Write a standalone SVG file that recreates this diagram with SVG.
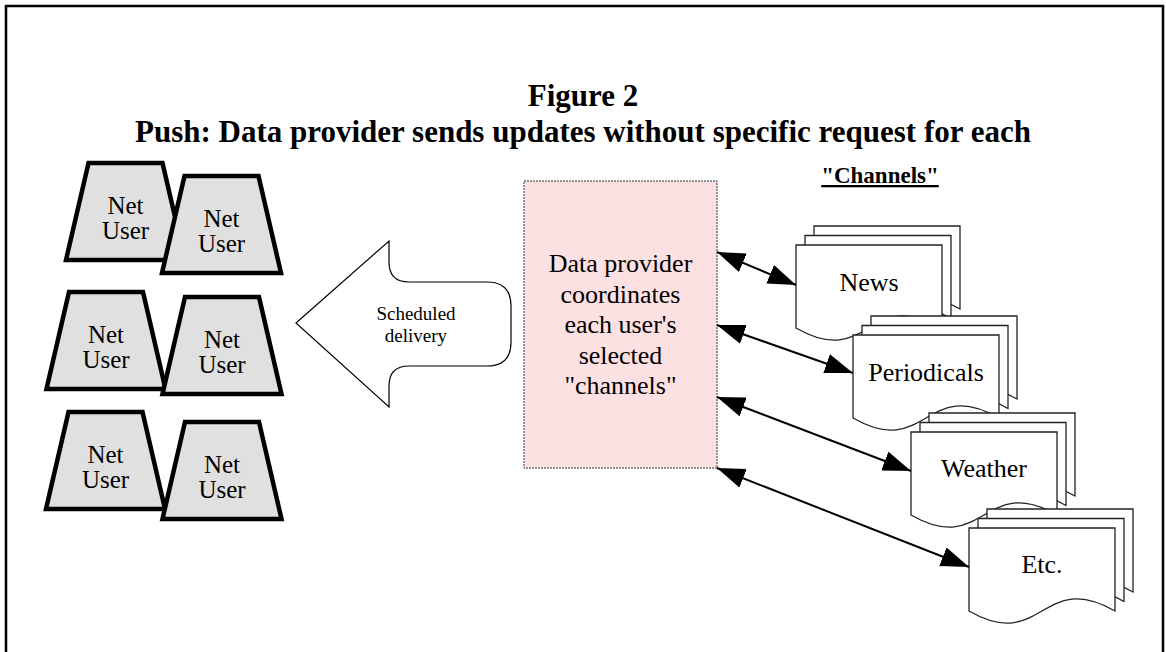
<svg xmlns="http://www.w3.org/2000/svg" xmlns:xlink="http://www.w3.org/1999/xlink" width="1166" height="652" viewBox="0 0 1166 652">
<style>
  text { font-family: "Liberation Serif", "Times New Roman", serif; fill: #000; text-anchor: middle; }
  .title { font-size: 31px; font-weight: bold; }
  .chan { font-size: 23px; font-weight: bold; text-decoration: underline; }
  .user { font-size: 25px; }
  .big { font-size: 26px; }
  .small { font-size: 19px; }
  .trap { fill: #e0e0e0; stroke: #000; stroke-width: 4.5; stroke-linejoin: miter; }
  .sheet { fill: #fff; stroke: #222; stroke-width: 1.3; }
  .conn { stroke: #000; stroke-width: 2; fill: none; marker-start: url(#ah); marker-end: url(#ah); }
</style>
<defs>
  <marker id="ah" viewBox="0 0 28 20" refX="28" refY="10" markerWidth="28" markerHeight="20" markerUnits="userSpaceOnUse" orient="auto-start-reverse">
    <path d="M0,0 L28,10 L0,20 Z" fill="#000"/>
  </marker>
  <polygon id="trapShape" class="trap" points="-37,0 37,0 59.5,97 -59.5,97"/>
  <path id="sheet" class="sheet" d="M0,0 H146 V83 C73,41 73,125 0,83 Z"/>
  <g id="stack">
    <use xlink:href="#sheet" x="18" y="-19"/>
    <use xlink:href="#sheet" x="9" y="-9.5"/>
    <use xlink:href="#sheet" x="0" y="0"/>
  </g>
</defs>

<rect x="6" y="6" width="1157" height="660" fill="none" stroke="#000" stroke-width="2.5"/>

<g id="title">
  <text class="title" x="583" y="106">Figure 2</text>
  <text class="title" x="583" y="142">Push: Data provider sends updates without specific request for each</text>
</g>

<g id="channels-label">
  <text class="chan" x="880" y="183">"Channels"</text>
</g>

<g id="user-a">
  <use xlink:href="#trapShape" x="125.5" y="163"/>
  <text class="user" x="125.5" y="214">Net</text>
  <text class="user" x="125.5" y="239">User</text>
</g>
<g id="user-b">
  <use xlink:href="#trapShape" x="221.5" y="176"/>
  <text class="user" x="221.5" y="227">Net</text>
  <text class="user" x="221.5" y="252">User</text>
</g>
<g id="user-c">
  <use xlink:href="#trapShape" x="106" y="292"/>
  <text class="user" x="106" y="343">Net</text>
  <text class="user" x="106" y="368">User</text>
</g>
<g id="user-d">
  <use xlink:href="#trapShape" x="222" y="297"/>
  <text class="user" x="222" y="348">Net</text>
  <text class="user" x="222" y="373">User</text>
</g>
<g id="user-e">
  <use xlink:href="#trapShape" x="105.5" y="412"/>
  <text class="user" x="105.5" y="463">Net</text>
  <text class="user" x="105.5" y="488">User</text>
</g>
<g id="user-f">
  <use xlink:href="#trapShape" x="222" y="422"/>
  <text class="user" x="222" y="473">Net</text>
  <text class="user" x="222" y="498">User</text>
</g>

<g id="delivery-arrow">
  <path d="M296,323 L389,241 L389,262 Q389,282 409,282 L487,282 Q511,282 511,306 L511,342 Q511,366 487,366 L409,366 Q389,366 389,386 L389,407 Z" fill="#fff" stroke="#000" stroke-width="1.2"/>
  <text class="small" x="416" y="320">Scheduled</text>
  <text class="small" x="416" y="342">delivery</text>
</g>

<g id="provider">
  <rect x="524" y="181" width="193" height="287" fill="#fde0e2" stroke="#333" stroke-width="1" stroke-dasharray="2,1"/>
  <text class="big" x="620.5" y="272">Data provider</text>
  <text class="big" x="620.5" y="302.5">coordinates</text>
  <text class="big" x="620.5" y="333">each user's</text>
  <text class="big" x="620.5" y="363.5">selected</text>
  <text class="big" x="620.5" y="394">"channels"</text>
</g>

<g id="news">
  <use xlink:href="#stack" transform="translate(796,245)"/>
  <text class="big" x="869" y="291">News</text>
</g>
<g id="periodicals">
  <use xlink:href="#stack" transform="translate(853,335)"/>
  <text class="big" x="926" y="381">Periodicals</text>
</g>
<g id="weather">
  <use xlink:href="#stack" transform="translate(911,432)"/>
  <text class="big" x="984" y="477">Weather</text>
</g>
<g id="etc">
  <use xlink:href="#stack" transform="translate(969,528)"/>
  <text class="big" x="1042" y="573">Etc.</text>
</g>

<g id="connectors">
  <line class="conn" x1="717" y1="252" x2="796" y2="285"/>
  <line class="conn" x1="717" y1="325" x2="853" y2="373"/>
  <line class="conn" x1="717" y1="397" x2="911" y2="471"/>
  <line class="conn" x1="717" y1="468" x2="969" y2="567"/>
</g>
</svg>
